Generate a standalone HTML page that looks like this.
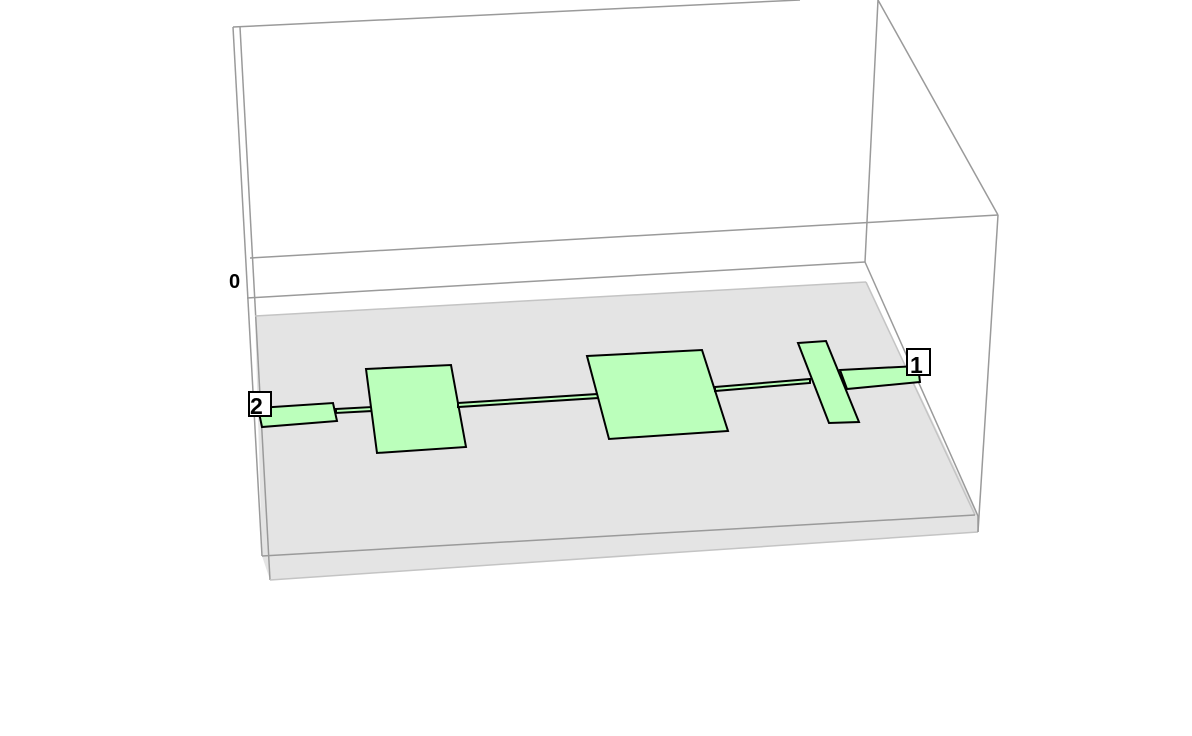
<!DOCTYPE html>
<html><head><meta charset="utf-8"><style>
html,body{margin:0;padding:0;background:#fff;width:1192px;height:736px;overflow:hidden}
svg{display:block}
text{font-family:"Liberation Sans",sans-serif;font-weight:bold}
</style></head><body>
<svg width="1192" height="736" viewBox="0 0 1192 736">
<g stroke="#9a9a9a" stroke-width="1.5" fill="none">
<polygon points="255,316 866,282 978,516 978,532 270,580 262,556" fill="#e4e4e4" stroke="none"/>
<line x1="233" y1="27" x2="800" y2="0"/>
<line x1="233" y1="27" x2="262" y2="556"/>
<line x1="240" y1="27" x2="270" y2="580"/>
<line x1="878" y1="0" x2="865" y2="262"/>
<line x1="878" y1="0" x2="998" y2="215"/>
<line x1="998" y1="215" x2="978" y2="532"/>
<line x1="250" y1="258" x2="998" y2="215"/>
<line x1="247" y1="298" x2="865" y2="262"/>
<line x1="255" y1="316" x2="866" y2="282" stroke="#c4c4c4"/>
<line x1="865" y1="262" x2="978" y2="516"/>
<line x1="866" y1="282" x2="975" y2="515" stroke="#c4c4c4"/>
<line x1="262" y1="556" x2="975" y2="515"/>
<line x1="270" y1="580" x2="978" y2="532" stroke="#c4c4c4"/>
<line x1="978" y1="516" x2="978" y2="532"/>
</g>
<text x="229" y="288" font-size="20">0</text>
<g fill="#bbffbb" stroke="#000" stroke-width="2">
<polygon points="258,408 333,403 337,421 262,427"/>
<polygon points="336,409 372,407 372,411 336,413"/>
<polygon points="366,369 451,365 466,447 377,453"/>
<polygon points="458,403 598,394 598,398 458,407"/>
<polygon points="587,356 702,350 728,431 609,439"/>
<polygon points="715,387 810,379 810,383 715,391"/>
<polygon points="840,370 918,366 920,382 847,389"/>
<polygon points="798,343 826,341 859,422 829,423"/>
</g>
<g>
<rect x="249" y="392" width="22" height="24" fill="#fff" stroke="#000" stroke-width="2"/>
<text x="250" y="414" font-size="23">2</text>
</g>
<g>
<rect x="907" y="349" width="23" height="26" fill="#fff" stroke="#000" stroke-width="2"/>
<text x="910" y="373" font-size="23">1</text>
</g>
</svg>
</body></html>
